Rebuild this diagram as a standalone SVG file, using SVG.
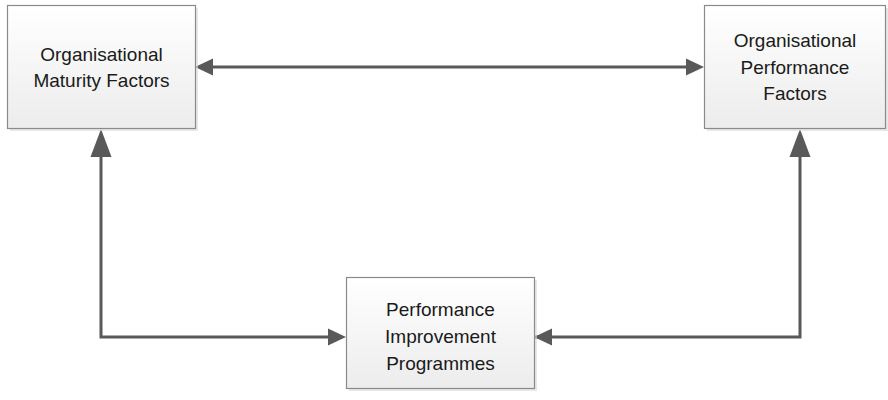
<svg xmlns="http://www.w3.org/2000/svg" width="888" height="400" viewBox="0 0 888 400">
<defs>
<linearGradient id="g" x1="0" y1="0" x2="0" y2="1">
<stop offset="0" stop-color="#ffffff"/>
<stop offset="1" stop-color="#ececec"/>
</linearGradient>
<style>
.box{fill:url(#g);stroke:#8a8a8a;stroke-width:1.2}
.sh{fill:#d9d9d9;opacity:0.6}
.t{font-family:"Liberation Sans",Arial,sans-serif;font-size:19px;fill:#1a1a1a;text-anchor:middle}
.ln{fill:none;stroke:#595959;stroke-width:3}
.ah{fill:#595959}
</style>
</defs>
<rect width="888" height="400" fill="#fff"/>
<g id="connectors">
<line class="ln" x1="212" y1="67" x2="688" y2="67"/>
<polygon class="ah" points="195,67 213,58.5 213,75.5"/>
<polygon class="ah" points="704,67 686,58.5 686,75.5"/>
<polyline class="ln" points="101,156 101,337 330,337"/>
<polygon class="ah" points="101,129 90.5,157 111.5,157"/>
<polygon class="ah" points="346,337 328,328.5 328,345.5"/>
<polyline class="ln" points="800,156 800,337 363,337"/>
<polygon class="ah" points="800,129 789.5,157 810.5,157"/>
<polygon class="ah" points="534,337 552,328.5 552,345.5"/>
</g>
<g id="node-maturity">
<rect class="sh" x="10" y="8" width="188" height="123"/>
<rect class="box" x="7.5" y="5.5" width="188" height="123"/>
<text class="t" x="101.5" y="61">Organisational</text>
<text class="t" x="101.5" y="87">Maturity Factors</text>
</g>
<g id="node-performance">
<rect class="sh" x="707" y="8" width="181" height="123"/>
<rect class="box" x="704.5" y="5.5" width="181" height="123"/>
<text class="t" x="795" y="47">Organisational</text>
<text class="t" x="795" y="74">Performance</text>
<text class="t" x="795" y="100">Factors</text>
</g>
<g id="node-programmes">
<rect class="sh" x="349" y="280" width="188" height="111"/>
<rect class="box" x="346.5" y="277.5" width="188" height="111"/>
<text class="t" x="440.5" y="316">Performance</text>
<text class="t" x="440.5" y="343">Improvement</text>
<text class="t" x="440.5" y="370">Programmes</text>
</g>
</svg>
